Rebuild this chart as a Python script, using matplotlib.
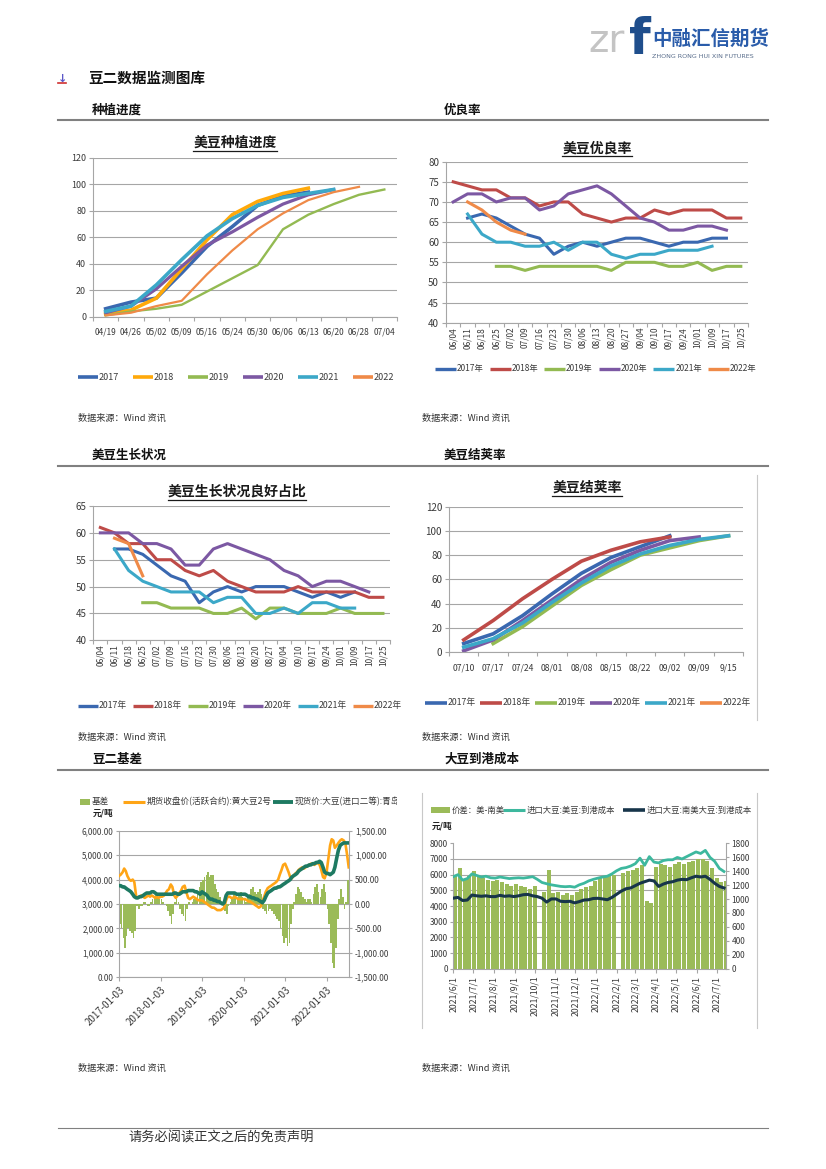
import numpy as np
import pandas as pd
import matplotlib
matplotlib.use('Agg')
import matplotlib.pyplot as plt
from matplotlib.ticker import FuncFormatter
from matplotlib.patches import Rectangle

plt.rcParams['font.family'] = ['Noto Sans CJK SC', 'DejaVu Sans']
plt.rcParams['axes.unicode_minus'] = False

# ---------------- data ----------------
years = ['2017', '2018', '2019', '2020', '2021', '2022']
years_cn = ['2017年', '2018年', '2019年', '2020年', '2021年', '2022年']

# chart 1: planting progress
cats1 = ['04/19', '04/26', '05/02', '05/09', '05/16', '05/24', '05/30', '06/06', '06/13', '06/20', '06/28', '07/04']
plant_2017 = [6, 11, 14, 33, 53, 68, 84, 91, 94]
plant_2018 = [2, 5, 14, 36, 58, 77, 87, 93, 97]
plant_2019 = [1, 4, 6, 9, 19, 29, 39, 66, 77, 85, 92, 96]
plant_2020 = [3, 8, 21, 38, 54, 64, 75, 85, 92, 96]
plant_2021 = [4, 8, 24, 43, 61, 74, 84, 90, 93, 96]
plant_2022 = [1, 3, 8, 12, 32, 50, 66, 78, 88, 94, 98]

# chart 2: good/excellent rate
cats2 = ['06/04', '06/11', '06/18', '06/25', '07/02', '07/09', '07/16', '07/23', '07/30', '08/06', '08/13',
         '08/20', '08/27', '09/04', '09/10', '09/17', '09/24', '10/01', '10/09', '10/17', '10/25']
rate_2017 = [None, 66, 67, 66, 64, 62, 61, 57, 59, 60, 59, 60, 61, 61, 60, 59, 60, 60, 61, 61, None]
rate_2018 = [75, 74, 73, 73, 71, 71, 69, 70, 70, 67, 66, 65, 66, 66, 68, 67, 68, 68, 68, 66, 66]
rate_2019 = [None, None, None, 54, 54, 53, 54, 54, 54, 54, 54, 53, 55, 55, 55, 54, 54, 55, 53, 54, 54]
rate_2020 = [70, 72, 72, 70, 71, 71, 68, 69, 72, 73, 74, 72, 69, 66, 65, 63, 63, 64, 64, 63, None]
rate_2021 = [None, 67, 62, 60, 60, 59, 59, 60, 58, 60, 60, 57, 56, 57, 57, 58, 58, 58, 59, None, None]
rate_2022 = [None, 70, 68, 65, 63, 62, None, None, None, None, None, None, None, None, None, None, None,
             None, None, None, None]

# chart 3: good condition share
good_2017 = [None, 57, 57, 56, 54, 52, 51, 47, 49, 50, 49, 50, 50, 50, 49, 48, 49, 48, 49, None, None]
good_2018 = [61, 60, 58, 58, 55, 55, 53, 52, 53, 51, 50, 49, 49, 49, 50, 49, 49, 49, 49, 48, 48]
good_2019 = [None, None, None, 47, 47, 46, 46, 46, 45, 45, 46, 44, 46, 46, 45, 45, 45, 46, 45, 45, 45]
good_2020 = [60, 60, 60, 58, 58, 57, 54, 54, 57, 58, 57, 56, 55, 53, 52, 50, 51, 51, 50, 49, None]
good_2021 = [None, 57, 53, 51, 50, 49, 49, 49, 47, 48, 48, 45, 45, 46, 45, 47, 47, 46, 46, None, None]
good_2022 = [None, 59, 58, 52, None, None, None, None, None, None, None, None, None, None, None, None, None,
             None, None, None, None]

# chart 4: pod setting
cats4 = ['07/10', '07/17', '07/24', '08/01', '08/08', '08/15', '08/22', '09/02', '09/09', '9/15']
pod_2017 = [7, 15, 30, 48, 65, 78, 87, 96, None, None]
pod_2018 = [10, 26, 44, 60, 75, 84, 91, 95, None, None]
pod_2019 = [None, 7, 21, 38, 55, 68, 80, 86, 92, 96]
pod_2020 = [1, 10, 26, 43, 60, 74, 84, 92, 95, None]
pod_2021 = [4, 11, 24, 41, 57, 71, 81, 88, 93, 96]
pod_2022 = [None, None, None, None, None, None, None, None, None, None]

# chart 5: No.2 soybean basis (semi-monthly readings)
fut_2017 = [4150, 4200, 4300, 4450, 4350, 4150, 4000, 3950, 4000, 3900, 3300, 3250, 3300, 3350, 3300, 3250, 3300, 3350, 3300, 3350, 3300, 3250, 3300, 3250]
fut_2018 = [3300, 3300, 3350, 3450, 3550, 3600, 3800, 3700, 3350, 3250, 3350, 3450, 3550, 3700, 3750, 3500, 3250, 3200, 3250, 3300, 3250, 3200, 3150, 3150]
fut_2019 = [3150, 3100, 3050, 3000, 2950, 2900, 2850, 2850, 2800, 2750, 2750, 2750, 2800, 2850, 3150, 3300, 3300, 3250, 3250, 3300, 3250, 3200, 3200, 3200]
fut_2020 = [3200, 3200, 3150, 3100, 3100, 3050, 3000, 2950, 2900, 2850, 2900, 3100, 3300, 3500, 3650, 3700, 3750, 3800, 3850, 3900, 4000, 4200, 4400, 4600]
fut_2021 = [4650, 4500, 4300, 4100, 4050, 4150, 4250, 4300, 4400, 4450, 4500, 4450, 4500, 4550, 4600, 4650, 4650, 4600, 4650, 4700, 4600, 4400, 4100, 4050]
fut_2022 = [4300, 4800, 5400, 5650, 5600, 5300, 5400, 5500, 5600, 5650, 5600, 5500, 5000, 4500]
spot_2017 = [3750, 3750, 3700, 3700, 3650, 3600, 3550, 3500, 3400, 3300, 3250, 3250, 3300, 3300, 3350, 3400, 3450, 3450, 3450, 3500, 3500, 3450, 3400, 3400]
spot_2018 = [3400, 3400, 3400, 3400, 3400, 3400, 3400, 3400, 3450, 3450, 3400, 3400, 3450, 3500, 3500, 3500, 3550, 3550, 3550, 3550, 3500, 3500, 3450, 3400]
spot_2019 = [3500, 3450, 3400, 3350, 3250, 3200, 3200, 3150, 3150, 3100, 3100, 3050, 3000, 3050, 3350, 3450, 3450, 3450, 3450, 3450, 3400, 3400, 3400, 3400]
spot_2020 = [3400, 3400, 3350, 3300, 3300, 3250, 3250, 3200, 3200, 3150, 3100, 3050, 3150, 3300, 3450, 3500, 3550, 3600, 3650, 3650, 3700, 3700, 3750, 3800]
spot_2021 = [3850, 3900, 3950, 4000, 4100, 4150, 4200, 4250, 4350, 4400, 4450, 4500, 4550, 4550, 4600, 4600, 4650, 4650, 4700, 4700, 4750, 4700, 4500, 4300]
spot_2022 = [4250, 4250, 4200, 4250, 4300, 4500, 4900, 5200, 5400, 5450, 5500, 5500, 5500, 5500]
basis_2017 = [-400, -500, -700, -900, -650, -500, -550, -600, -700, -550, -50, -100, -50, -50, 50, 50, -50, -50, 50, 100, 150, 200, 150, 100]
basis_2018 = [100, 50, 0, -50, -150, -250, -400, -200, 50, 100, 50, -100, -200, -250, -350, -100, 50, 0, 50, 100, 100, 200, 350, 450]
basis_2019 = [500, 550, 600, 650, 550, 600, 600, 400, 300, 250, 150, 50, -100, -150, -200, -50, 50, 100, 200, 150, 100, 200, 250, 150]
basis_2020 = [100, 50, 150, 200, 300, 350, 250, 200, 250, 300, 200, -100, -150, -200, -150, -100, -150, -200, -250, -300, -350, -500, -650, -800]
basis_2021 = [-700, -850, -800, -400, -100, 50, 200, 350, 300, 250, 150, 100, 50, 100, 100, 50, 200, 350, 400, 250, 150, 300, 400, 250]
basis_2022 = [-100, -400, -800, -1200, -1300, -900, -300, 100, 300, 150, -100, 50, 500, 800]
ticks5 = ['2017-01-03', '2018-01-03', '2019-01-03', '2020-01-03', '2021-01-03', '2022-01-03']

# chart 6: landed cost (weekly readings from 2021-06-01)
us_cost = [5870, 6000, 5650, 5750, 6050, 5950, 5850, 5900, 5800, 5780,
           5850, 5800, 5750, 5780, 5800, 5780, 5820, 5870, 5700, 5500,
           5420, 5350, 5300, 5250, 5230, 5250, 5200, 5350, 5450, 5600,
           5700, 5780, 5850, 5900, 6050, 6250, 6400, 6450, 6550, 6700,
           7050, 6600, 7150, 6800, 6750, 6900, 6950, 6950, 7100, 7000,
           7150, 7300, 7450, 7350, 7550, 7100, 6850, 6400, 6200]
sa_cost = [4500, 4550, 4350, 4380, 4700, 4650, 4620, 4650, 4600, 4600,
           4680, 4620, 4650, 4600, 4650, 4720, 4740, 4650, 4600, 4500,
           4250, 4450, 4450, 4300, 4280, 4300, 4200, 4280, 4380, 4400,
           4480, 4490, 4450, 4400, 4550, 4750, 4950, 5100, 5150, 5300,
           5450, 5550, 5650, 5600, 5250, 5400, 5500, 5550, 5650, 5700,
           5680, 5800, 5900, 5850, 5900, 5700, 5450, 5250, 5150]
spread = [1350, 1440, 1280, 1330, 1400, 1330, 1300, 1280, 1260, 1280,
          1240, 1220, 1190, 1220, 1190, 1170, 1150, 1190, 0, 1100,
          1420, 1080, 1100, 1060, 1080, 1060, 1100, 1150, 1170, 1190,
          1260, 1300, 1330, 1330, 1350, 0, 1370, 1400, 1420, 1440,
          1490, 970, 950, 1460, 1510, 1490, 1460, 1510, 1530, 1510,
          1530, 1550, 1580, 1580, 1550, 1440, 1300, 1240, 1260]

# ---------------- styles ----------------
C_2017 = '#3A68B0'
C_2018a = '#FFA90A'
C_2018 = '#BE4B48'
C_2019 = '#93BA52'
C_2020 = '#7C58A3'
C_2021 = '#3CA8C8'
C_2022 = '#EF8A48'
colors1 = [C_2017, C_2018a, C_2019, C_2020, C_2021, C_2022]
colors2 = [C_2017, C_2018, C_2019, C_2020, C_2021, C_2022]
GRID = '#A6A6A6'
TXT = '#3A3A3A'

W, H = 826, 1169
fig = plt.figure(figsize=(W / 100, H / 100), dpi=100)


def rect(x0, y0, x1, y1):
    return [x0 / W, 1 - y1 / H, (x1 - x0) / W, (y1 - y0) / H]


page = fig.add_axes([0, 0, 1, 1])
page.set_xlim(0, W)
page.set_ylim(H, 0)
page.axis('off')


def style_cat(ax, n, ymin, ymax, ystep, labels, rot, xfs, yfs, xpad):
    ax.set_xlim(-0.5, n - 0.5)
    ax.set_ylim(ymin, ymax)
    ax.set_yticks(np.arange(ymin, ymax + 0.1, ystep))
    ax.set_xticks(np.arange(n))
    ax.set_xticklabels(labels, rotation=rot, fontsize=xfs, color=TXT)
    ax.set_xticks(np.arange(n + 1) - 0.5, minor=True)
    ax.tick_params(axis='x', which='major', length=0, pad=xpad)
    ax.tick_params(axis='x', which='minor', length=3, color=GRID, width=0.8)
    ax.tick_params(axis='y', length=3, color=GRID, width=0.8, labelsize=yfs, labelcolor=TXT, pad=2)
    ax.grid(axis='y', color=GRID, lw=0.8)
    ax.set_axisbelow(True)
    for s in ['top', 'right']:
        ax.spines[s].set_visible(False)
    for s in ['left', 'bottom']:
        ax.spines[s].set_color(GRID)
        ax.spines[s].set_linewidth(0.8)
    ax.patch.set_alpha(0)


def title(cx, y, s, fs=10):
    page.text(cx, y, s, ha='center', va='center', fontsize=fs, fontweight='bold', color='#1A1A1A')
    w = len(s) * fs * 1.389
    page.plot([cx - w / 2, cx + w / 2], [y + 8, y + 8], color='#1A1A1A', lw=0.9)


def legend_lines(x0, y, step, colors, labels, lw, seg, fs):
    for i, (c, l) in enumerate(zip(colors, labels)):
        xs = x0 + i * step
        page.plot([xs, xs + seg], [y, y], color=c, lw=lw, solid_capstyle='butt')
        page.text(xs + seg + 1, y, l, va='center', ha='left', fontsize=fs, color=TXT)


def as_arr(v):
    return np.array(v, dtype=float)


# ---------------- page decorations ----------------
page.text(588, 41, 'zr', fontsize=28, color='#C4C4C4', family='DejaVu Sans',
          va='center', ha='left')
page.text(629, 40, 'f', fontsize=36, color='#1F4E8C', fontweight='bold', family='DejaVu Sans',
          va='center', ha='left')
page.text(652, 39, '中融汇信期货', fontsize=14, color='#2A5CAA', fontweight='bold', va='center')
page.text(652, 57, 'ZHONG RONG HUI XIN FUTURES', fontsize=4.6, color='#5A6E8C', va='center',
          family='DejaVu Sans')

page.text(58, 79, '↓', fontsize=8, color='#5B57C8', family='DejaVu Sans', fontweight='bold', va='center')
page.plot([58, 66], [83, 83], color='#D03030', lw=1.2)
page.text(88, 78, '豆二数据监测图库', fontsize=10.5, fontweight='bold', va='center', color='#111')

for (y, a, b) in [(110, '种植进度', '优良率'), (455, '美豆生长状况', '美豆结荚率'), (759, '豆二基差', '大豆到港成本')]:
    page.text(92, y, a, fontsize=9, fontweight='bold', va='center', color='#111')
    page.text(444, y, b, fontsize=9, fontweight='bold', va='center', color='#111')
for y in [120, 466, 770]:
    page.plot([58, 768], [y, y], color='#808080', lw=1.5)

for (x, y) in [(78, 418), (422, 418), (78, 737), (422, 737), (78, 1068), (422, 1068)]:
    page.text(x, y, '数据来源：Wind 资讯', fontsize=6.6, va='center', color='#333')

page.plot([58, 768], [1128, 1128], color='#808080', lw=0.8)
page.text(128, 1138, '请务必阅读正文之后的免责声明', fontsize=9.5, va='center', color='#333')

# frame lines
page.plot([757, 757], [475, 720], color='#C8C8C8', lw=0.8)
page.plot([421.7, 421.7], [793, 1028], color='#C8C8C8', lw=0.8)
page.plot([756.7, 756.7], [793, 1028], color='#C8C8C8', lw=0.8)

# ---------------- chart 1 ----------------
ax1 = fig.add_axes(rect(93, 157.7, 397, 316.7))
plant = [plant_2017, plant_2018, plant_2019, plant_2020, plant_2021, plant_2022]
widths1 = [2.6, 2.6, 1.7, 2.3, 2.6, 1.6]
for v, c, w in zip(plant, colors1, widths1):
    ax1.plot(np.arange(len(v)), v, color=c, lw=w, solid_joinstyle='round')
style_cat(ax1, len(cats1), 0, 120, 20, cats1, 0, 6, 6.4, 8)
title(235, 143, '美豆种植进度')
legend_lines(78, 377, 55, colors1, years, 2.6, 20, 6.5)

# ---------------- chart 2 ----------------
ax2 = fig.add_axes(rect(446, 161.7, 748, 322.7))
rates = [rate_2017, rate_2018, rate_2019, rate_2020, rate_2021, rate_2022]
for v, c in zip(rates, colors2):
    ax2.plot(np.arange(len(v)), as_arr(v), color=c, lw=2.2, solid_joinstyle='round')
style_cat(ax2, len(cats2), 40, 80, 5, cats2, 90, 6, 7, 3)
title(597, 148, '美豆优良率')
legend_lines(435, 369, 54.6, colors2, years_cn, 2.4, 21, 6)

# ---------------- chart 3 ----------------
ax3 = fig.add_axes(rect(93.3, 506, 390, 640.3))
goods = [good_2017, good_2018, good_2019, good_2020, good_2021, good_2022]
for v, c in zip(goods, colors2):
    ax3.plot(np.arange(len(v)), as_arr(v), color=c, lw=2.2, solid_joinstyle='round')
style_cat(ax3, len(cats2), 40, 65, 5, cats2, 90, 6, 7, 3)
title(237, 491.7, '美豆生长状况良好占比')
legend_lines(78, 705.7, 55, colors2, years_cn, 2.4, 20, 6.3)

# ---------------- chart 4 ----------------
ax4 = fig.add_axes(rect(449, 506.7, 743.3, 652))
pods = [pod_2017, pod_2018, pod_2019, pod_2020, pod_2021, pod_2022]
for v, c in zip(pods, colors2):
    ax4.plot(np.arange(len(v)), as_arr(v), color=c, lw=2.6, solid_joinstyle='round')
style_cat(ax4, len(cats4), 0, 120, 20, cats4, 0, 6.2, 7, 8)
title(587, 488, '美豆结荚率')
legend_lines(425, 703, 55, colors2, years_cn, 2.6, 22, 6.3)

# ---------------- chart 5 ----------------
d5 = pd.date_range('2017-01-01', periods=134, freq='SMS')
basis = as_arr(basis_2017 + basis_2018 + basis_2019 + basis_2020 + basis_2021 + basis_2022)
fut = as_arr(fut_2017 + fut_2018 + fut_2019 + fut_2020 + fut_2021 + fut_2022)
spot = as_arr(spot_2017 + spot_2018 + spot_2019 + spot_2020 + spot_2021 + spot_2022)
C_BAR = '#9BBB59'
C_FUT = '#FFA516'
C_SPOT = '#1E7A62'

ax5 = fig.add_axes(rect(119.3, 830.7, 349.3, 977.3))
ax5p = ax5.twinx()
ax5.bar(d5, basis, width=15, align='edge', color=C_BAR, lw=0)
ax5p.plot(d5, fut, color=C_FUT, lw=1.9)
ax5p.plot(d5, spot, color=C_SPOT, lw=2.6)
ax5.set_xlim(pd.Timestamp('2017-01-03'), pd.Timestamp('2022-07-20'))
ax5.set_ylim(-1500, 1500)
ax5p.set_ylim(0, 6000)
ax5.yaxis.tick_right()
ax5p.yaxis.tick_left()
ax5.set_yticks(np.arange(-1500, 1501, 500))
ax5p.set_yticks(np.arange(0, 6001, 1000))
fmt2 = FuncFormatter(lambda v, p: f'{v:,.2f}')
ax5.yaxis.set_major_formatter(fmt2)
ax5p.yaxis.set_major_formatter(fmt2)
ax5.grid(axis='y', color=GRID, lw=0.8)
ax5.set_axisbelow(True)
ax5.set_xticks([pd.Timestamp(t) for t in ticks5])
ax5.set_xticklabels(ticks5, rotation=45, ha='right', va='top', rotation_mode='anchor',
                    fontsize=7, color=TXT)
ax5.tick_params(axis='x', length=3, color=GRID, pad=2)
ax5.tick_params(axis='y', length=2, color=GRID, labelsize=5.8, labelcolor=TXT, pad=2)
ax5p.tick_params(axis='y', length=2, color=GRID, labelsize=5.8, labelcolor=TXT, pad=2)
ax5.spines['top'].set_visible(False)
for s in ['left', 'right', 'bottom']:
    ax5.spines[s].set_color(GRID)
    ax5.spines[s].set_linewidth(0.8)
for s in ax5p.spines.values():
    s.set_visible(False)
ax5.patch.set_alpha(0)

frame5 = fig.add_axes(rect(58, 790, 397, 1045))
frame5.set_xlim(58, 397)
frame5.set_ylim(1045, 790)
frame5.axis('off')
frame5.add_patch(Rectangle((80, 798.7), 10, 6, color=C_BAR, lw=0))
frame5.text(92, 801.7, '基差', fontsize=6.2, va='center', color=TXT)
frame5.plot([123, 145], [801.7, 801.7], color=C_FUT, lw=2.2, solid_capstyle='butt')
frame5.text(147, 801.7, '期货收盘价(活跃合约):黄大豆2号', fontsize=6.2, va='center', color=TXT)
frame5.plot([273, 293], [801.7, 801.7], color=C_SPOT, lw=2.8, solid_capstyle='butt')
frame5.text(295, 801.7, '现货价:大豆(进口二等):青岛', fontsize=6.2, va='center', color=TXT,
            clip_on=True)
frame5.text(93, 813, '元/吨', fontsize=6.2, fontweight='bold', va='center', color='#222')

# ---------------- chart 6 ----------------
d6 = pd.date_range('2021-06-01', periods=len(spread), freq='7D')
C_US = '#3DB89E'
C_SA = '#17354A'
ax6 = fig.add_axes(rect(453.3, 843.3, 726, 968.7))
ax6p = ax6.twinx()
ax6.bar(d6, as_arr(spread), width=6, align='edge', color=C_BAR, lw=0)
ax6p.plot(d6, as_arr(us_cost), color=C_US, lw=2.0)
ax6p.plot(d6, as_arr(sa_cost), color=C_SA, lw=2.2)
ax6.set_xlim(pd.Timestamp('2021-06-01'), pd.Timestamp('2022-07-15'))
ax6.set_ylim(0, 1800)
ax6p.set_ylim(0, 8000)
ax6.yaxis.tick_right()
ax6p.yaxis.tick_left()
ax6.set_yticks(np.arange(0, 1801, 200))
ax6.set_yticks(np.arange(0, 1801, 225), minor=True)
ax6p.set_yticks(np.arange(0, 8001, 1000))
ax6.grid(axis='y', which='minor', color=GRID, lw=0.8)
ax6.grid(axis='y', which='major', visible=False)
ax6.set_axisbelow(True)
mt = pd.date_range('2021-06-01', '2022-07-01', freq='MS')
ax6.set_xticks(mt)
ax6.set_xticklabels([f'{d.year}/{d.month}/1' for d in mt], rotation=90, fontsize=6.3, color=TXT)
ax6.tick_params(axis='x', length=3, color=GRID, pad=2)
ax6.tick_params(axis='y', which='major', length=2, color=GRID, labelsize=6, labelcolor=TXT, pad=2)
ax6.tick_params(axis='y', which='minor', length=0)
ax6p.tick_params(axis='y', length=2, color=GRID, labelsize=6, labelcolor=TXT, pad=2)
ax6.spines['top'].set_visible(False)
for s in ['left', 'right', 'bottom']:
    ax6.spines[s].set_color(GRID)
    ax6.spines[s].set_linewidth(0.8)
for s in ax6p.spines.values():
    s.set_visible(False)
ax6.patch.set_alpha(0)

page.add_patch(Rectangle((431, 807), 19, 6, color=C_BAR, lw=0))
page.text(452, 810, '价差：美-南美', fontsize=6, va='center', color=TXT)
page.plot([503, 525], [810, 810], color=C_US, lw=2.2, solid_capstyle='butt')
page.text(527, 810, '进口大豆:美豆:到港成本', fontsize=6, va='center', color=TXT)
page.plot([623, 645], [810, 810], color=C_SA, lw=2.6, solid_capstyle='butt')
page.text(647, 810, '进口大豆:南美大豆:到港成本', fontsize=6, va='center', color=TXT)
page.text(432, 826, '元/吨', fontsize=6.2, fontweight='bold', va='center', color='#222')

fig.savefig('out.png', dpi=100)
